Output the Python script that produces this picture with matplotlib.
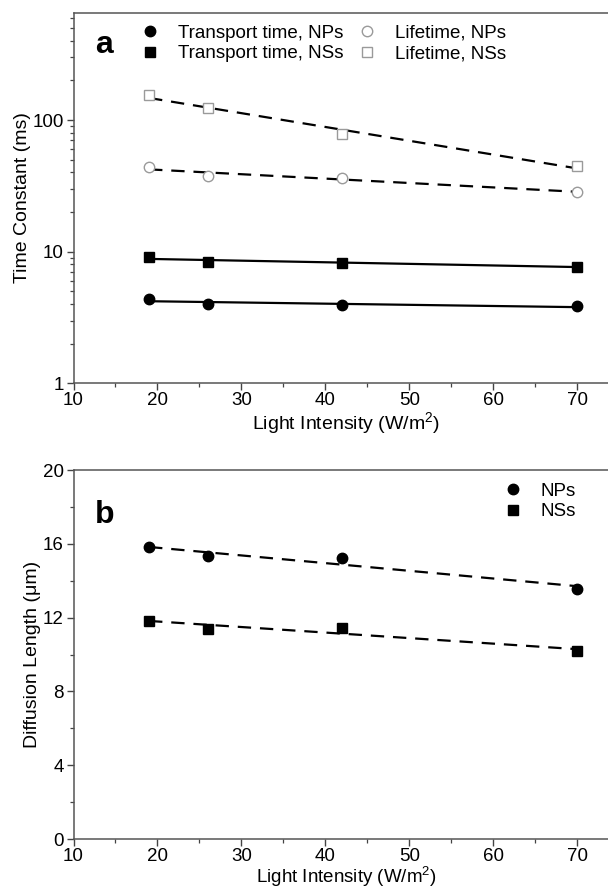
import numpy as np
import matplotlib
matplotlib.use('Agg')
from matplotlib import pyplot as plt
from matplotlib.ticker import MultipleLocator, LogLocator, NullFormatter

plt.rcParams['font.family'] = ['Liberation Sans', 'DejaVu Sans']
plt.rcParams['mathtext.fontset'] = 'custom'
plt.rcParams['mathtext.rm'] = 'Liberation Sans'
plt.rcParams['mathtext.it'] = 'Liberation Sans:italic'

# light intensity (W/m2)
intensity = [19, 26, 42, 70]

# panel a: time constants (ms)
transport_np = [4.40, 3.99, 3.92, 3.85]
transport_ns = [9.05, 8.39, 8.24, 7.68]
lifetime_np = [44.0, 37.4, 36.3, 28.4]
lifetime_ns = [154, 124, 77.7, 44.5]

# panel b: diffusion length (um)
diff_np = [15.82, 15.32, 15.23, 13.57]
diff_ns = [11.84, 11.39, 11.44, 10.18]

x_ticks = [10, 20, 30, 40, 50, 60, 70]
b_ticks = [0, 4, 8, 12, 16, 20]

fig = plt.figure(figsize=(6.08, 8.89), dpi=100)
ax1 = fig.add_axes([0.1209, 0.5688, 0.8977, 0.4169])
ax2 = fig.add_axes([0.1209, 0.0562, 0.8977, 0.4151])

x = np.array(intensity)
grey = '#9a9a9a'


def log_fit(y):
    k = np.polyfit(x, np.log10(y), 1)
    return 10 ** np.polyval(k, x)


def lin_fit(y):
    k = np.polyfit(x, y, 1)
    return np.polyval(k, x)


dash = (0, (6, 4))

# panel a
ax1.plot(x, log_fit(lifetime_ns), color='black', lw=1.6, linestyle=dash)
ax1.plot(x, log_fit(lifetime_np), color='black', lw=1.6, linestyle=dash)
ax1.plot(x, log_fit(transport_ns), color='black', lw=1.6)
ax1.plot(x, log_fit(transport_np), color='black', lw=1.6)
h1, = ax1.plot(x, transport_np, 'o', color='black', ms=7.5, linestyle='none')
h2, = ax1.plot(x, transport_ns, 's', color='black', ms=7, linestyle='none')
h3, = ax1.plot(x, lifetime_np, 'o', mfc='white', mec=grey, mew=1.0, ms=7.5, linestyle='none')
h4, = ax1.plot(x, lifetime_ns, 's', mfc='white', mec=grey, mew=1.0, ms=7, linestyle='none')

ax1.set_yscale('log')
ax1.set_xlim(10, 75)
ax1.set_ylim(1, 653)
ax1.set_yticks([1, 10, 100])
ax1.set_yticklabels(['1', '10', '100'])
ax1.yaxis.set_minor_locator(LogLocator(base=10, subs=np.arange(2, 10)))
ax1.yaxis.set_minor_formatter(NullFormatter())
ax1.set_ylabel('Time Constant (ms)', fontsize=14, labelpad=1)
ax1.set_xlabel('Light Intensity (W/m$^2$)', fontsize=14, labelpad=0.5)
ax1.text(0.039, 0.913, 'a', transform=ax1.transAxes, fontsize=23, fontweight='bold', ha='left', va='center')

ax1.legend([h1, h2, h3, h4],
           ['Transport time, NPs', 'Transport time, NSs', 'Lifetime, NPs', 'Lifetime, NSs'],
           ncol=2, frameon=False, fontsize=13.5, handlelength=1.0, handletextpad=1.0,
           columnspacing=0.75, labelspacing=0.2, borderaxespad=0,
           loc='upper left', bbox_to_anchor=(133 / 608, 1 - 17 / 889), bbox_transform=fig.transFigure)

# panel b
ax2.plot(x, lin_fit(diff_np), color='black', lw=1.6, linestyle=dash)
ax2.plot(x, lin_fit(diff_ns), color='black', lw=1.6, linestyle=dash)
g1, = ax2.plot(x, diff_np, 'o', color='black', ms=7.5, linestyle='none')
g2, = ax2.plot(x, diff_ns, 's', color='black', ms=7, linestyle='none')

ax2.set_xlim(10, 75)
ax2.set_ylim(0, 20)
ax2.set_yticks(b_ticks)
ax2.yaxis.set_minor_locator(MultipleLocator(2))
ax2.set_ylabel('Diffusion Length (μm)', fontsize=14, labelpad=1)
ax2.set_xlabel('Light Intensity (W/m$^2$)', fontsize=13.5, labelpad=0)
ax2.text(0.039, 0.878, 'b', transform=ax2.transAxes, fontsize=23, fontweight='bold', ha='left', va='center')
ax2.legend([g1, g2], ['NPs', 'NSs'], frameon=False, fontsize=13.5, handlelength=1.0,
           handletextpad=1.0, labelspacing=0.2, borderaxespad=0,
           loc='upper left', bbox_to_anchor=(496 / 608, 1 - 475 / 889), bbox_transform=fig.transFigure)

for ax in (ax1, ax2):
    ax.set_xticks(x_ticks)
    ax.xaxis.set_minor_locator(MultipleLocator(5))
    ax.tick_params(which='major', direction='out', length=5, width=1, labelsize=13.5, colors='#444444', labelcolor='black')
    ax.tick_params(which='minor', direction='out', length=3, width=0.9, colors='#444444')
    ax.tick_params(axis='y', pad=2)
    ax.tick_params(axis='x', pad=1.5)
    for s in ax.spines.values():
        s.set_color('#555555')
        s.set_linewidth(1.1)

fig.savefig('out.png', dpi=100)
